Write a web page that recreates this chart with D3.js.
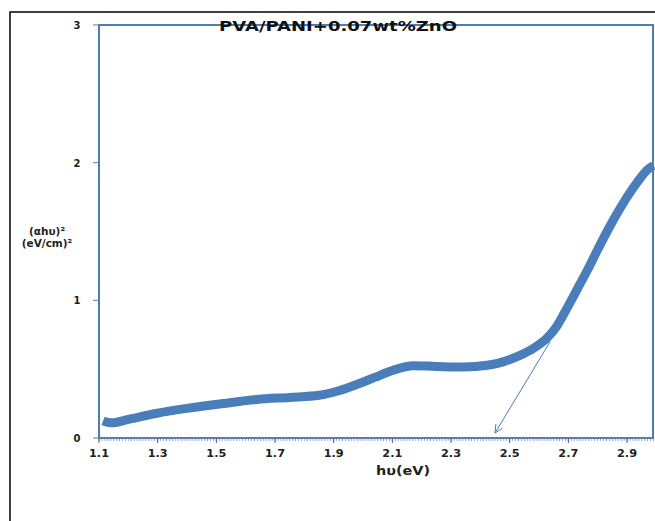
<!DOCTYPE html>
<html><head><meta charset="utf-8">
<script src="https://cdn.jsdelivr.net/npm/d3@7"></script>
<style>body{margin:0;background:#fff}svg{display:block}</style>
</head><body>
<svg id="c" width="655" height="521"></svg>
<script>
const title = "PVA/PANI+0.07wt%ZnO";
const xLabel = "hυ(eV)";
const yLabelLines = ["(αhυ)²", "(eV/cm)²"];
const xTicks = [1.1, 1.3, 1.5, 1.7, 1.9, 2.1, 2.3, 2.5, 2.7, 2.9];
const yTicks = [0, 1, 2, 3];
const energy = [1.114, 1.14, 1.2, 1.298, 1.4, 1.523, 1.639, 1.75, 1.85, 1.92, 1.98, 2.04, 2.1, 2.171, 2.25, 2.341, 2.43, 2.48, 2.535, 2.58, 2.627, 2.66, 2.696, 2.73, 2.764, 2.798, 2.832, 2.866, 2.9, 2.934, 2.968, 2.99];
const absorb = [0.125, 0.11, 0.135, 0.18, 0.215, 0.25, 0.28, 0.295, 0.31, 0.345, 0.39, 0.44, 0.49, 0.525, 0.52, 0.515, 0.53, 0.555, 0.60, 0.65, 0.725, 0.81, 0.945, 1.08, 1.215, 1.36, 1.50, 1.63, 1.75, 1.855, 1.945, 1.98];
const arrowFrom = [2.638, 0.70];
const arrowTo = [2.450, 0.036];

const svg = d3.select("#c");
const L = 99, R = 653, T = 25, B = 438;
const x = d3.scaleLinear().domain([1.1, 2.9]).range([L, 627]);
const y = d3.scaleLinear().domain([0, 3]).range([B, T]);
const blue = "#4a7ebb";

// outer frame
svg.append("path").attr("d", "M10,521 L10,12 L655,12").attr("fill", "none").attr("stroke", "#000").attr("stroke-width", 1.5);

// plot area border
svg.append("rect").attr("x", L).attr("y", T).attr("width", R - L).attr("height", B - T)
  .attr("fill", "none").attr("stroke", blue).attr("stroke-width", 2);

// x axis minor ticks
const minor = d3.range(0, 190).map(i => 1.1 + i * 0.01);
svg.append("g").selectAll("line").data(minor).join("line")
  .attr("x1", d => x(d)).attr("x2", d => x(d)).attr("y1", B).attr("y2", B + 3)
  .attr("stroke", "#7f8c9a").attr("stroke-width", 0.8);
svg.append("g").selectAll("line").data(xTicks).join("line")
  .attr("x1", d => x(d)).attr("x2", d => x(d)).attr("y1", B).attr("y2", B + 5)
  .attr("stroke", "#555").attr("stroke-width", 1);
svg.append("line").attr("x1", L).attr("x2", R).attr("y1", B).attr("y2", B).attr("stroke", "#5b7fa8").attr("stroke-width", 1.5);

svg.append("g").selectAll("text").data(xTicks).join("text")
  .attr("x", d => x(d)).attr("y", 457).attr("text-anchor", "middle")
  .attr("font-family", "DejaVu Sans").attr("font-weight", "bold").attr("font-size", 11).attr("fill", "#222")
  .attr("textLength", 20).attr("lengthAdjust", "spacingAndGlyphs")
  .text(d => d.toFixed(1));

// y axis ticks
svg.append("g").selectAll("line").data(yTicks).join("line")
  .attr("x1", L - 6).attr("x2", L).attr("y1", d => y(d)).attr("y2", d => y(d))
  .attr("stroke", "#777").attr("stroke-width", 1);
svg.append("g").selectAll("text").data(yTicks).join("text")
  .attr("x", 77).attr("y", d => y(d) + 4).attr("text-anchor", "middle")
  .attr("font-family", "DejaVu Sans").attr("font-weight", "bold").attr("font-size", 10).attr("fill", "#222")
  .text(d => d);

// data curve
const pts = energy.map((e, i) => [e, absorb[i]]);
const line = d3.line().x(d => x(d[0])).y(d => y(d[1])).curve(d3.curveMonotoneX);
svg.append("path").datum(pts).attr("d", line).attr("fill", "none")
  .attr("stroke", blue).attr("stroke-width", 9).attr("stroke-linecap", "butt").attr("stroke-linejoin", "round");

// arrow
const ax1 = x(arrowFrom[0]), ay1 = y(arrowFrom[1]), ax2 = x(arrowTo[0]), ay2 = y(arrowTo[1]);
svg.append("line").attr("x1", ax1).attr("y1", ay1).attr("x2", ax2).attr("y2", ay2)
  .attr("stroke", blue).attr("stroke-width", 1);
const ang = Math.atan2(ay2 - ay1, ax2 - ax1);
[0.45, -0.45].forEach(a => {
  svg.append("line").attr("x1", ax2).attr("y1", ay2)
    .attr("x2", ax2 - 9 * Math.cos(ang + a)).attr("y2", ay2 - 9 * Math.sin(ang + a))
    .attr("stroke", blue).attr("stroke-width", 1);
});

// title
svg.append("text").attr("x", 338).attr("y", 31).attr("text-anchor", "middle")
  .attr("font-family", "DejaVu Sans").attr("font-weight", "bold").attr("font-size", 14).attr("fill", "#111")
  .attr("textLength", 238).attr("lengthAdjust", "spacingAndGlyphs")
  .text(title);

// axis titles
svg.append("text").attr("x", 403).attr("y", 475).attr("text-anchor", "middle")
  .attr("font-family", "DejaVu Sans").attr("font-weight", "bold").attr("font-size", 12).attr("fill", "#222")
  .attr("textLength", 54).attr("lengthAdjust", "spacingAndGlyphs")
  .text(xLabel);
const yl = svg.append("text").attr("font-family", "DejaVu Sans").attr("font-weight", "bold")
  .attr("font-size", 10.5).attr("fill", "#222").attr("text-anchor", "middle");
yLabelLines.forEach((t, i) => yl.append("tspan").attr("x", 47).attr("y", 235 + i * 12).text(t));
</script>
</body></html>
